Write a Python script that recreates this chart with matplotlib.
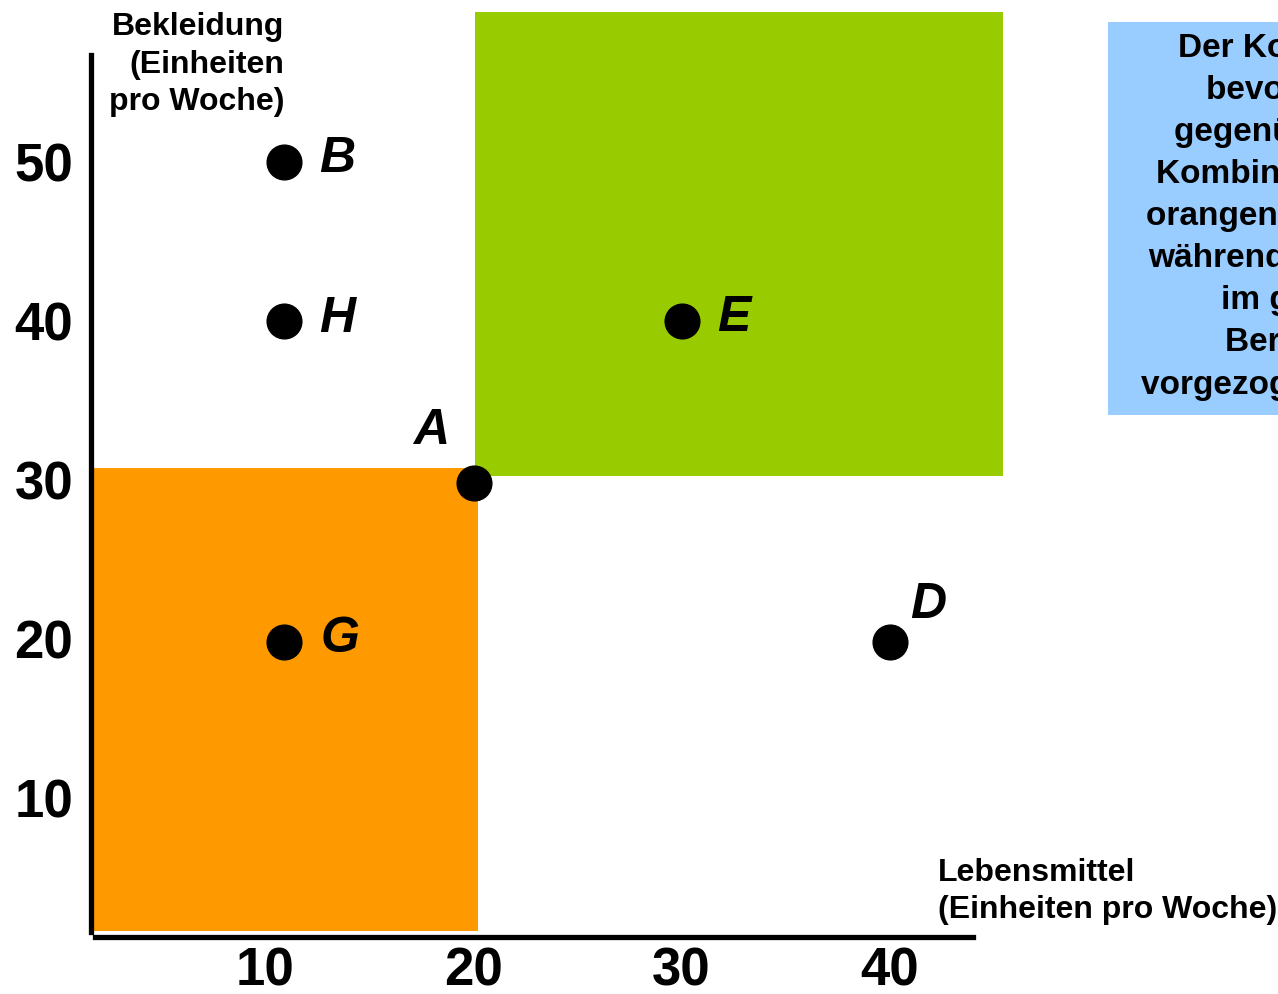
import matplotlib
matplotlib.use("Agg")
import matplotlib.pyplot as plt
from matplotlib.patches import Rectangle

plt.rcParams['font.family'] = ['Liberation Sans', 'DejaVu Sans']

# Punkte (Lebensmittel, Bekleidung)
namen = ['B', 'H', 'A', 'E', 'G', 'D']
lebensmittel = [10.9, 10.9, 20.05, 30, 10.9, 40]
bekleidung = [50, 40, 29.8, 40, 19.8, 19.8]
# Versatz der Buchstaben in Pixeln
versatz = [(35, 3), (35, 2), (-25, 52), (36, 3), (37, 3), (20, 37)]
ausrichtung = ['left', 'left', 'right', 'left', 'left', 'left']

x_ticks = [10, 20, 30, 40]
y_ticks = [10, 20, 30, 40, 50]

# Bereiche: (x0, x1, y0, y1)
orange_bereich = (1.6, 20.23, 1.64, 30.75)
gruen_bereich = (20.08, 45.43, 30.25, 59.43)

info_text = ("Der Konsument\nbevorzugt A\ngegenüber allen\nKombinationen im\n"
             "orangenen Bereich,\nwährend alle Körbe\nim grünen\nBereich A\n"
             "vorgezogen werden.")

fig = plt.figure(figsize=(12.78, 9.94), dpi=100)
ax = fig.add_axes([0, 0, 1, 1])
ax.set_xlim(-2.72, 58.63)
ax.set_ylim(-2.33, 60.19)

x0, x1, y0, y1 = orange_bereich
ax.add_patch(Rectangle((x0, y0), x1 - x0, y1 - y0, color='#FF9900', lw=0, zorder=1))
x0, x1, y0, y1 = gruen_bereich
ax.add_patch(Rectangle((x0, y0), x1 - x0, y1 - y0, color='#99CC00', lw=0, zorder=1))

# blaue Infobox (rechts abgeschnitten)
ax.add_patch(Rectangle((50.47, 34.1), 20, 24.7, color='#99CCFF', lw=0, zorder=1,
                       clip_on=False))
ax.text(59.8, 46.55, info_text, ha='center', va='center', multialignment='center',
        fontsize=24, fontweight='bold', linespacing=1.46, zorder=3)

ax.plot(lebensmittel, bekleidung, 'o', color='black', ms=25, zorder=4)
for n, xv, yv, off, ha in zip(namen, lebensmittel, bekleidung, versatz, ausrichtung):
    ax.annotate(n, (xv, yv), xytext=off, textcoords='offset pixels',
                ha=ha, va='center', fontsize=36, fontweight='bold',
                fontstyle='italic', zorder=5)

# Achsen
for s in ['top', 'right']:
    ax.spines[s].set_visible(False)
ax.spines['left'].set_position(('data', 1.65))
ax.spines['left'].set_bounds(1.57, 56.7)
ax.spines['bottom'].set_position(('data', 1.26))
ax.spines['bottom'].set_bounds(1.84, 44.0)
for s in ['left', 'bottom']:
    ax.spines[s].set_linewidth(3.8)
    ax.spines[s].set_zorder(6)

ax.set_xticks(x_ticks)
ax.set_yticks(y_ticks)
ax.tick_params(length=0, labelsize=38)
ax.tick_params(axis='y', pad=13)
ax.tick_params(axis='x', pad=7)
for lab in ax.get_xticklabels() + ax.get_yticklabels():
    lab.set_fontweight('bold')

ax.text(10.93, 59.42, "Bekleidung\n(Einheiten\npro Woche)", ha='right', va='top',
        multialignment='right', fontsize=23, fontweight='bold', linespacing=1.33)
ax.text(42.3, 6.25, "Lebensmittel\n(Einheiten pro Woche)", ha='left', va='top',
        multialignment='left', fontsize=23, fontweight='bold', linespacing=1.33)

fig.savefig('out.png', dpi=100)
